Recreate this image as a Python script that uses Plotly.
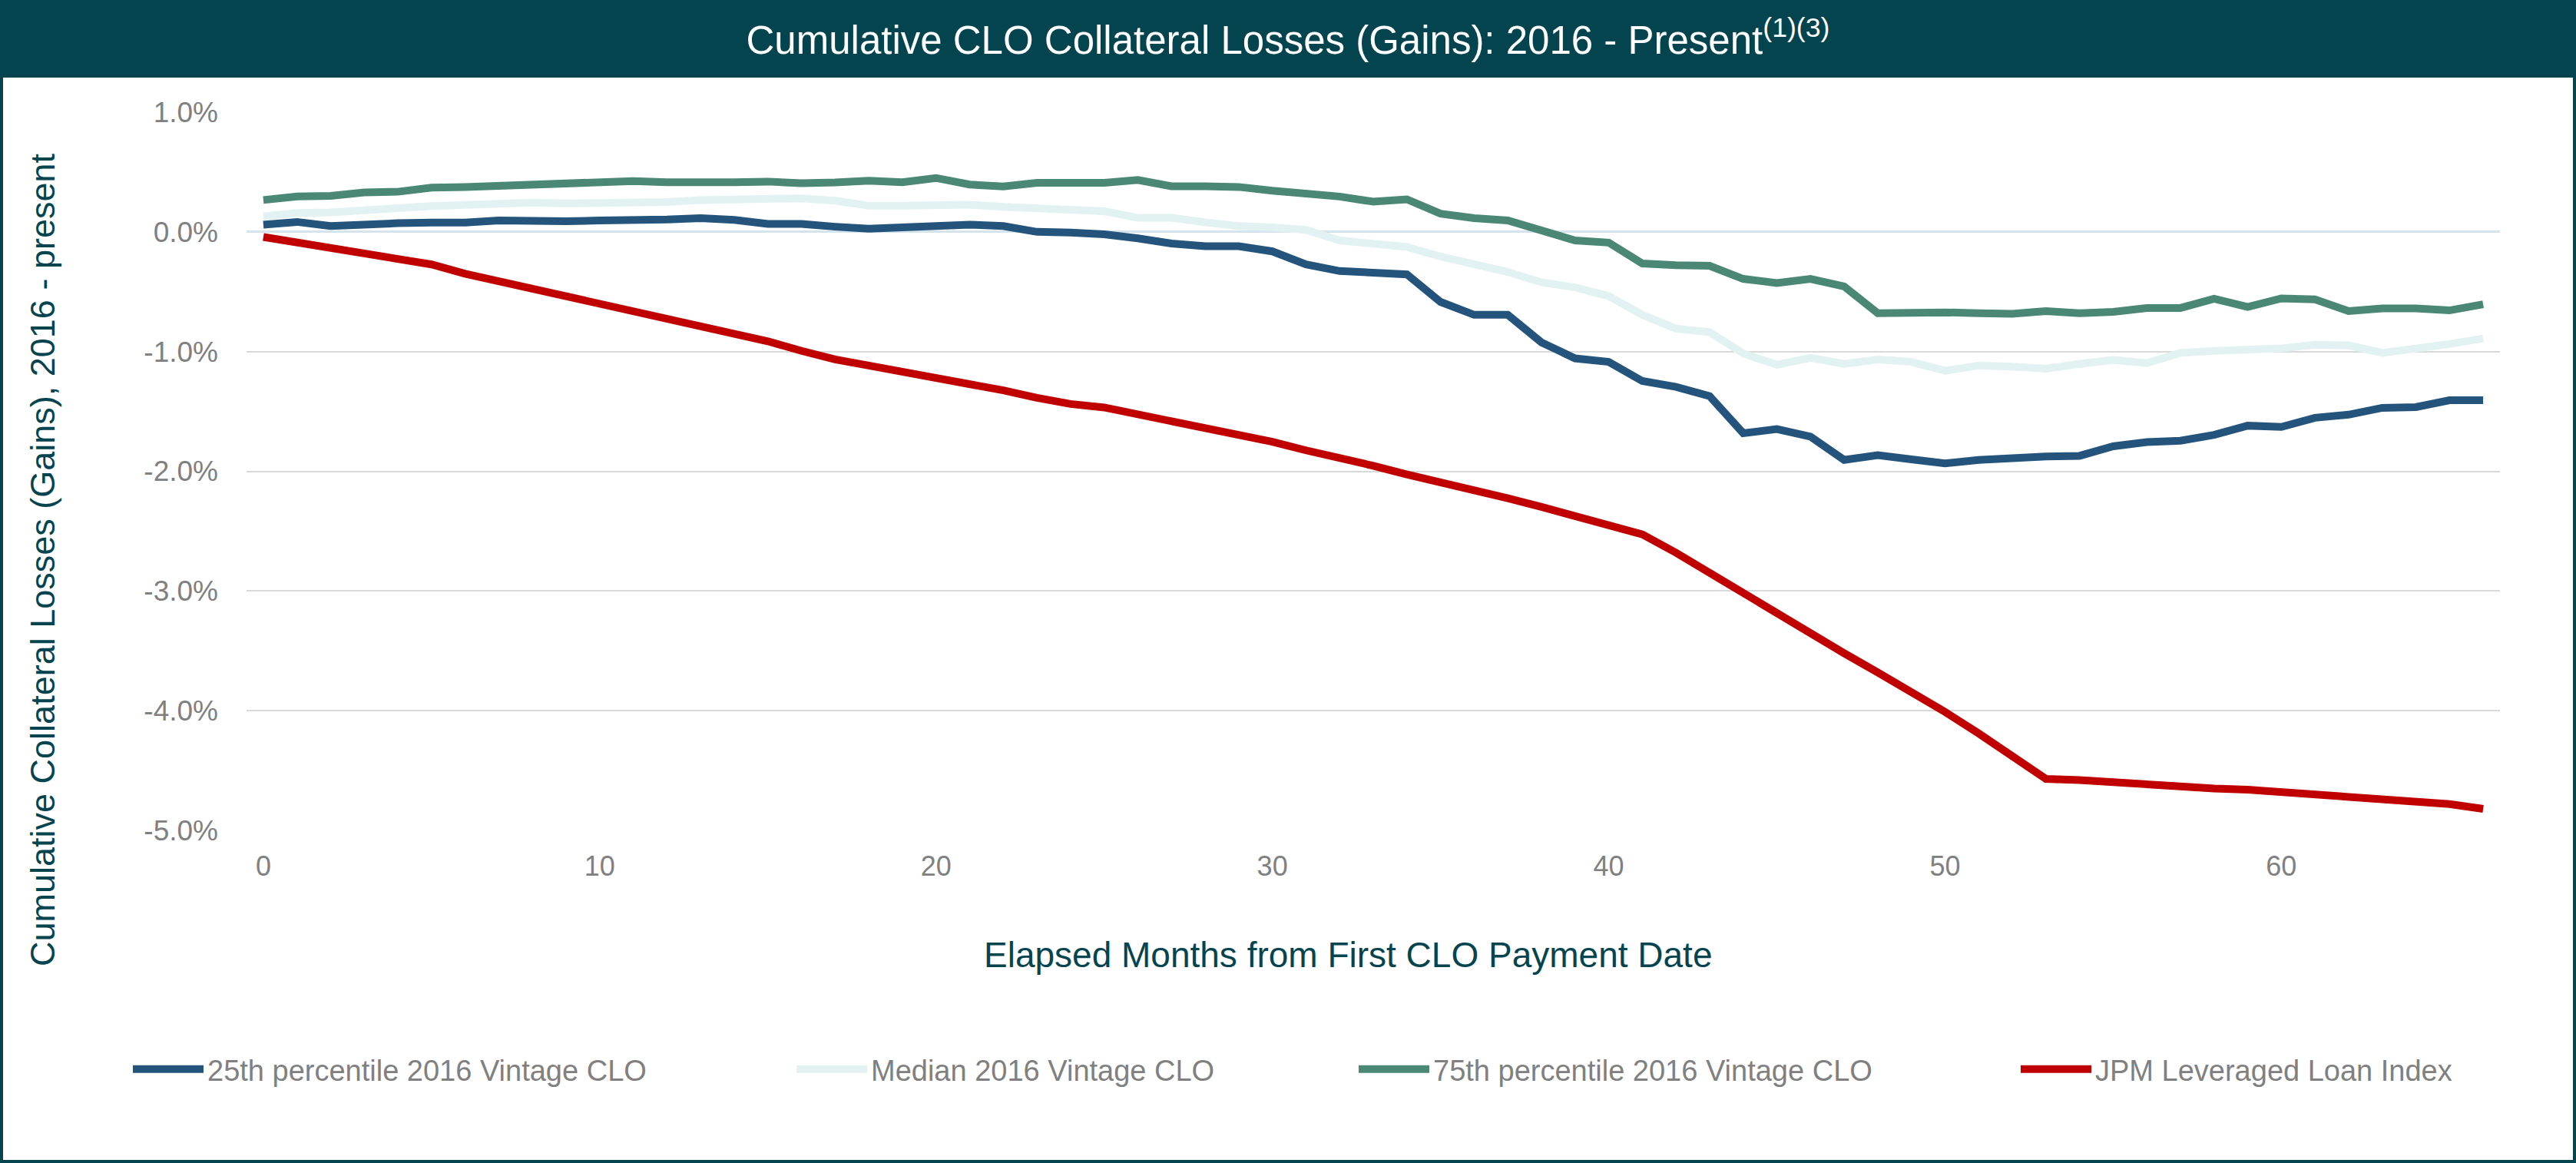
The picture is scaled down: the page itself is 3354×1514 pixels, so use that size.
import plotly.graph_objects as go

# ---------------- data ----------------
months = list(range(67))

p25_2016 = [0.060, 0.083, 0.049, 0.066, 0.072, 0.077, 0.077, 0.095, 0.089, 0.089, 0.095, 0.095, 0.103, 0.115, 0.100, 0.066, 0.066, 0.043, 0.026, 0.037, 0.054, 0.060, 0.049, 0.0, -0.006,
            -0.020, -0.054, -0.097, -0.120, -0.120, -0.163, -0.272, -0.327, -0.344, -0.355, -0.585, -0.693, -0.693, -0.923, -1.057, -1.086, -1.246, -1.295, -1.372, -1.682, -1.648, -1.711, -1.905,
            -1.865, -1.900, -1.934, -1.905, -1.888, -1.877, -1.871, -1.791, -1.756, -1.745, -1.696, -1.619, -1.630, -1.553, -1.527, -1.470, -1.464, -1.407, -1.407]

median_2016 = [0.129, 0.158, 0.163, 0.186, 0.198, 0.215, 0.226, 0.238, 0.244, 0.238, 0.238, 0.244, 0.249, 0.266, 0.266, 0.272, 0.280, 0.260, 0.218, 0.218, 0.218, 0.226, 0.209, 0.192, 0.175,
               0.172, 0.117, 0.117, 0.080, 0.049, 0.037, 0.017, -0.072, -0.106, -0.126, -0.206, -0.264, -0.335, -0.421, -0.464, -0.536, -0.694, -0.808, -0.837, -1.017, -1.110, -1.052, -1.103,
               -1.066, -1.086, -1.160, -1.117, -1.126, -1.143, -1.103, -1.069, -1.097, -1.011, -0.994, -0.983, -0.974, -0.943, -0.948, -1.011, -0.980, -0.937, -0.891]

p75_2016 = [0.266, 0.295, 0.300, 0.330, 0.335, 0.370, 0.375, 0.387, 0.404, 0.410, 0.415, 0.424, 0.415, 0.410, 0.415, 0.420, 0.407, 0.413, 0.427, 0.415, 0.450, 0.395, 0.380, 0.410, 0.410,
            0.410, 0.433, 0.381, 0.381, 0.375, 0.344, 0.318, 0.295, 0.252, 0.272, 0.152, 0.115, 0.095, 0.017, -0.072, -0.090, -0.264, -0.278, -0.284, -0.393, -0.427, -0.393, -0.456,
            -0.679, -0.668, -0.673, -0.679, -0.685, -0.662, -0.679, -0.668, -0.636, -0.636, -0.559, -0.628, -0.556, -0.564, -0.662, -0.639, -0.639, -0.656, -0.605]

jpm_index = [-0.043, -0.089, -0.143, -0.183, -0.226, -0.272, -0.350, -0.413, -0.473, -0.536, -0.593, -0.668, -0.725, -0.785, -0.845, -0.914, -0.994, -1.066, -1.117, -1.166, -1.212, -1.266, -1.324, -1.387, -1.438,
             -1.467, -1.524, -1.582, -1.630, -1.682, -1.754, -1.825, -1.883, -1.954, -2.026, -2.089, -2.155, -2.226, -2.298, -2.370, -2.440, -2.527,
             -2.680, -2.850, -3.020, -3.190, -3.360, -3.520, -3.680, -3.840, -4.010, -4.190, -4.380, -4.570,
             -4.580, -4.600, -4.620, -4.630, -4.650, -4.660, -4.680, -4.700, -4.710, -4.730, -4.750, -4.780, -4.820]

series_names = ["25th percentile 2016 Vintage CLO", "Median 2016 Vintage CLO",
                "75th percentile 2016 Vintage CLO", "JPM Leveraged Loan Index"]
series_colors = ["#24547C", "#E2F1F1", "#4A8774", "#C00000"]

y_tick_vals = [1, 0, -1, -2, -3, -4, -5]
y_tick_text = ["1.0%", "0.0%", "-1.0%", "-2.0%", "-3.0%", "-4.0%", "-5.0%"]
x_tick_vals = [0, 10, 20, 30, 40, 50, 60]

title_text = "Cumulative CLO Collateral Losses (Gains): 2016 - Present<sup>(1)(3)</sup>"
y_title = "Cumulative Collateral Losses (Gains), 2016 - present"
x_title = "Elapsed Months from First CLO Payment Date"

# ---------------- layout geometry ----------------
W, H = 3354, 1514
L, R, T, B = 321, 99, 146, 433
PW, PH = W - L - R, H - T - B


def px_x(px):
    return (px - L) / PW


def px_y(py):
    return (H - B - py) / PH


FONT = "Liberation Sans, Arial, sans-serif"
TEAL = "#03444F"
TEAL_TXT = "#06444F"
GRAY = "#808080"

fig = go.Figure()
all_series = [p25_2016, median_2016, p75_2016, jpm_index]
legend_ids = ["legend", "legend2", "legend3", "legend4"]
for name, vals, col, lid in zip(series_names, all_series, series_colors, legend_ids):
    fig.add_trace(go.Scatter(x=months, y=vals, name=name, mode="lines",
                             line=dict(color=col, width=10), legend=lid,
                             hovertemplate="%{x}: %{y:.2f}%<extra>" + name + "</extra>"))

legend_px = [168, 1032, 1764, 2626]
leg_common = dict(orientation="h", xanchor="left", yanchor="middle",
                  y=px_y(1392), itemwidth=92, bgcolor="rgba(0,0,0,0)",
                  font=dict(family=FONT, size=38, color=GRAY))
layout_legends = {}
for lid, lx in zip(legend_ids, legend_px):
    layout_legends[lid] = dict(leg_common, x=px_x(lx))

fig.update_layout(
    width=W, height=H,
    margin=dict(l=L, r=R, t=T, b=B),
    paper_bgcolor="white", plot_bgcolor="white",
    showlegend=True,
    title=dict(text=title_text, x=0.5, xanchor="center", xref="container",
               y=1 - 52 / H, yanchor="middle", yref="container",
               font=dict(family=FONT, size=51, color="white")),
    xaxis=dict(range=[-0.5, 66.5], tickmode="array", tickvals=x_tick_vals,
               showgrid=False, zeroline=False, showline=False, ticks="",
               ticklabelstandoff=22,
               tickfont=dict(family=FONT, size=36, color=GRAY)),
    yaxis=dict(range=[-5, 1], tickmode="array", tickvals=y_tick_vals, ticktext=y_tick_text,
               showgrid=True, gridcolor="#D9D9D9", gridwidth=2,
               zeroline=True, zerolinecolor="#D5E3EC", zerolinewidth=3,
               showline=False, ticks="", ticklabelstandoff=36,
               tickfont=dict(family=FONT, size=37, color=GRAY)),
    shapes=[
        dict(type="rect", xref="paper", yref="paper", layer="below",
             x0=px_x(0), x1=px_x(W), y0=px_y(101), y1=px_y(0),
             fillcolor=TEAL, line=dict(width=0)),
        dict(type="rect", xref="paper", yref="paper", layer="above",
             x0=px_x(2), x1=px_x(W - 2), y0=px_y(H - 2), y1=px_y(2),
             fillcolor="rgba(0,0,0,0)", line=dict(color=TEAL, width=4)),
    ],
    annotations=[
        dict(text=y_title, textangle=-90, xref="paper", yref="paper",
             x=px_x(55), y=px_y(729), xanchor="center", yanchor="middle",
             showarrow=False, font=dict(family=FONT, size=45, color=TEAL_TXT)),
        dict(text=x_title, xref="paper", yref="paper",
             x=px_x(1755), y=px_y(1243), xanchor="center", yanchor="middle",
             showarrow=False, font=dict(family=FONT, size=46, color=TEAL_TXT)),
    ],
    **layout_legends,
)

fig.write_html("out.html")
